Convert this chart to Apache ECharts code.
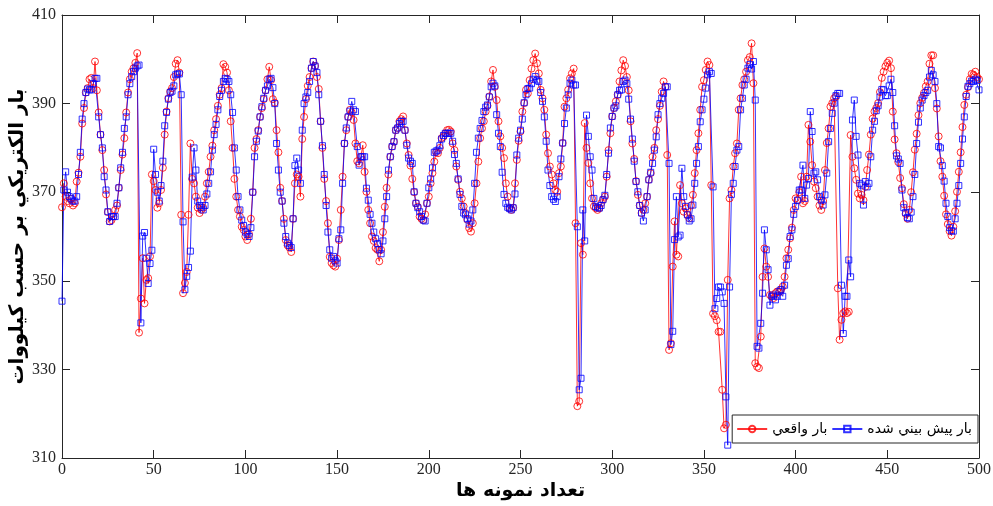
<!DOCTYPE html>
<html>
<head>
<meta charset="utf-8">
<script src="https://cdn.jsdelivr.net/npm/echarts@6/dist/echarts.min.js"></script>
<style>html,body{margin:0;padding:0;background:#fff}#c{width:993px;height:506px}</style>
</head>
<body>
<div id="c"></div>
<script>
// Actual load (red) for samples 0..500
var actual = [
366.6,372,369,368,367.5,368.5,367,367.5,372.4,374.4,
378,385.5,389,392.5,393.5,395.5,395.8,393.5,399.5,393,
388,383,379.5,375,369.5,365.5,363.4,363.7,364.5,366,
367,371,375,378.5,382.2,388,392.5,395.5,397.2,398,
399.2,401.4,338.3,346,355.1,344.9,350.2,350.6,355.5,374,
372.5,370.5,366.5,367.5,370.5,375.5,383,388.2,391.2,392.7,
393.5,396,399,399.8,397,364.9,347.2,349.5,352,364.9,
381,373,372,369,366.5,365.3,366,366.5,369,372,
374.6,378,380.5,384,386.5,389.5,392,393.5,398.9,398.3,
397,393,386,380,373,369,366,364.5,362.2,361.5,
360,359.2,360.5,364,370,380,382,384,387,389,
391,393,395.5,398.3,395.3,391,390.2,384,379,371,
368,364,359.2,358,357.5,356.5,364,372,374,373.5,
369,382,387,391,394,396,398,399.5,398.5,396,
393.3,386,380,373,368,363,355.4,354,353.5,353.2,
355,359.2,366,373.5,381,384,387,388.6,388,386.3,
381,377,376.5,378,380.6,374.6,370.1,366,363,360,
359,357.4,357,354.4,357,361,366.7,371,374,378,
380.3,381.4,384,384.5,386,386.5,387.1,384,381,378.4,
376,373,370,367.5,366.7,364.5,364,363.7,365,367.5,
369,372,374.3,376.9,379,378.8,380,382.2,382.5,383.3,
384,384.1,383.7,381,379.5,375.8,372.8,370.1,368.6,366.8,
365.3,363.8,361.9,361.1,363,367.5,372,376.9,382.2,384.4,
386,388.2,389.5,391.6,395,397.6,393.8,390.8,386,382.6,
380,377.7,372,369,366.4,366,366.5,372,377.3,381.6,
383.7,388.2,390.1,393.1,392.3,395.3,397.9,399.8,401.3,399.1,
396.8,393.1,391.2,388.6,383,378.8,375.8,374,372,370.5,
370.1,374.3,375.8,381.1,389.3,391.2,393.1,395.7,396.8,397.9,
363,321.7,322.8,358.5,355.9,385.6,380,376.6,372,368.6,
366.8,366.4,366,366.4,367.5,368.3,369,373.5,379.5,383.3,
387.1,389,390.5,392,395,397.5,399.8,398.5,396,393,
386,381,377.5,372.5,369.4,367,365.3,366,367.5,369,
372.8,374.3,378,380,384,386.5,389.5,392.7,395,393.8,
378.4,334.4,335.9,353.2,363.4,355.9,355.5,371.6,367.5,365.6,
366.4,364.9,364.1,367,369.4,374.3,379.5,383.3,388.6,393.8,
395.3,397.6,399.5,398.7,371.6,342.6,342,341.1,338.5,338.5,
325.4,316.7,317.5,350.2,368.6,370.5,375.8,378.8,381,388.6,
391.2,394.2,395.5,397.2,399.8,400.5,403.6,394.6,331.4,330.6,
330.3,337.4,350.9,357.3,353.2,350.9,346.8,346.5,346.1,347.2,
347.6,347.4,348,348.7,350.9,355.1,357,359.6,362,366,
368.6,368.2,370,373.5,367.5,368,373.5,385.2,381.4,376.1,
372.4,370.9,369,367,366,368,375,381.1,384.4,389.3,
390.1,391.2,391.6,348.3,336.7,341.2,342.7,343.1,342.7,343,
382.9,378,375.4,372.8,369.7,368.6,369.4,368.2,371.2,375,
378.5,383,386.6,388.2,389,390.1,392.6,395.8,397.2,398.4,
399.2,399.7,398,388.2,381.9,378.8,376.8,373.2,370.9,367.3,
365.1,364,366,370,374.5,379.6,383.2,387.4,390.1,391.3,
392.4,393.9,395,399,400.9,400.9,393.5,388.9,382.6,377,
373.5,369.2,365,362.8,361.2,360.2,362.2,365.7,370.1,374.6,
379,384.7,389.7,392,393.7,395.5,396.7,396.5,397.2,396,
395.5
];
// Predicted load (blue) for samples 0..500
var predicted = [
345.4,370.5,374.6,370,369,368.5,368,368,369,374,
379,386.5,390,392.5,393.3,393.1,393.1,394.5,395.7,395.7,
387,383,380,373.5,370.5,365.6,363.4,364.5,364.5,364.5,
367.5,371,375.5,379,384.4,387,392,394.5,396.1,397.2,
398,398.5,398.7,340.5,360.1,360.9,355.1,349.4,353.9,356.9,
379.7,374,370,368,371.5,377,385,388,391,392.5,
392.8,394,396.5,396.7,396.7,392,363.3,348,351,353,
356.7,373.4,380,375,368,367,366.5,366,367,369.6,
372,374.6,379.5,383,385.3,388.6,391.6,393,395,395.7,
395.5,395,392,388,380,375,369,366,363.7,362.5,
361,360.5,360,362,370,378,381.5,383.8,387,389.3,
391.2,393,394,395.5,395.7,393.6,390,381,375,370,
368,363,360,358.5,358,357.5,364,376,377.7,375,
372,384,390,391.5,392.5,395,398,399.5,398.5,397,
392,386,380.5,374,367,361,357,355.1,355.5,354.5,
354,359.5,361.5,372,381,384.5,387,388.3,390.5,388.6,
388.2,380.3,376.1,378,378,378,370.9,368.2,365,363,
361,359.5,358.4,357,356.1,359,364,369,375,378,
380.3,381.4,384,384.5,385.5,386,386,384,380.6,377.7,
377,376.5,370.1,367.5,366.5,365.6,364.5,363.7,363.5,367.5,
371,373,375.5,379,379.3,379.5,380.5,382,382.8,383.3,
383.3,383.3,383.3,381.5,378.5,376.5,373,369.5,366.8,365.3,
364.9,364,362.8,363.5,366,372,379,382.2,384.4,386.2,
388.2,389.2,389.7,391.5,393.8,394.6,394,387.5,383.3,380.3,
374.5,369.5,367.5,366.6,366.3,366,366.5,369.6,378.4,382.2,
384,386.5,390.2,392,393.4,393.5,394.5,395.5,396.1,395.3,
395,392.5,390.5,387,381.5,375,371.5,369,368.4,367.9,
369,373.5,377.5,381.1,385.5,389,392,394.6,395.3,394.2,
394.2,362.2,325.4,328,366,359,387.4,382.6,378,375,
368.6,366.8,366.5,366.4,367,368.3,369.3,374,378.8,384.5,
387.1,389,389.5,392,393,393.1,395,395.3,394.5,391,
386.5,382,377,372.4,370.1,367,365.3,363.5,366,369,
372.8,374.5,376.5,379.5,382.5,387.5,390,391.2,392.3,393.8,
393.8,376.5,335.6,338.6,359.3,369,359.9,360.3,375.4,369,
366.8,364.9,363.5,364,367.1,372,376.5,380.3,385.9,388.6,
391,393.5,396.5,397.2,396.8,371.2,343.7,346,348.6,348.6,
347.5,344.9,323.8,312.9,348.6,369.5,372,375.8,379.5,380.3,
388.6,391.2,394.2,395.5,398,398.8,397.8,399.5,390.8,335.2,
334.8,340.4,347.2,361.5,357,352.5,344.5,346.5,346.8,345.7,
346.5,347.6,348,346.5,349,353.5,355,360,361.5,365,
366.8,368.2,370.5,370.5,376.1,368.6,371.6,373.1,388.2,383.7,
374.3,374.6,372.8,369,368.2,367.1,369.4,374.3,381.4,384.4,
387.8,390.1,391.8,392.3,392.3,349,338.1,346.5,346.5,354.7,
350.9,386.3,390.8,382.6,378.4,372,371.6,367.1,372.4,371.2,
372,378,384,386,388.4,389.5,391.5,393.2,393.1,391.8,
391.8,394,395.5,392.5,385,378.2,377.5,376.5,370.5,366.5,
365.4,364.3,364,365.5,369,374,381,385.8,389,390.8,
391.8,392.5,393,396,397.5,396.5,395,390,380.3,380,
376,372.5,367.5,364.5,362,361.3,361.2,364,367.5,371.5,
376.5,382,387,391.6,393.9,394.5,395.1,395,395.5,395.2,
393.1
];
var xTicks = [0, 50, 100, 150, 200, 250, 300, 350, 400, 450, 500];
var yTicks = [310, 330, 350, 370, 390, 410];
var seriesNames = ['بار واقعي', 'بار پيش بيني شده'];
var xTitle = 'تعداد نمونه ها';
var yTitle = 'بار الكتريكي بر حسب كيلووات';

var toPairs = function (arr) { return arr.map(function (v, i) { return [i, v]; }); };

var chart = echarts.init(document.getElementById('c'), null, {renderer: 'canvas'});
var axisColor = '#262626';
var tickFont = {color: '#262626', fontFamily: 'Liberation Serif', fontSize: 16};
var baseX = {
  type: 'value', min: xTicks[0], max: xTicks[xTicks.length - 1],
  interval: xTicks[1] - xTicks[0], splitLine: {show: false},
  axisLine: {show: true, onZero: false, lineStyle: {color: axisColor, width: 1}},
  axisTick: {show: true, inside: true, length: 8, lineStyle: {color: axisColor}}
};
var baseY = {
  type: 'value', min: yTicks[0], max: yTicks[yTicks.length - 1],
  interval: yTicks[1] - yTicks[0], splitLine: {show: false},
  axisLine: {show: true, onZero: false, lineStyle: {color: axisColor, width: 1}},
  axisTick: {show: true, inside: true, length: 8, lineStyle: {color: axisColor}}
};
var option = {
  animation: false,
  backgroundColor: '#ffffff',
  grid: {left: 62, right: 14, top: 15, bottom: 48, containLabel: false, outerBoundsMode: 'none'},
  legend: {
    data: seriesNames,
    right: 15, bottom: 63,
    orient: 'horizontal',
    backgroundColor: '#ffffff',
    borderColor: '#262626', borderWidth: 1,
    padding: [7, 6, 7, 4],
    itemGap: 4, itemWidth: 30, itemHeight: 8,
    textStyle: {fontFamily: 'DejaVu Sans', fontSize: 14, color: '#000'}
  },
  xAxis: [
    Object.assign({}, baseX, {
      position: 'bottom',
      name: xTitle, nameLocation: 'middle', nameGap: 24, nameMoveOverlap: false,
      nameTextStyle: {fontFamily: 'DejaVu Sans', fontWeight: 'bold', fontSize: 19, color: '#000'},
      axisLabel: Object.assign({margin: 4}, tickFont)
    }),
    Object.assign({}, baseX, {position: 'top', axisLabel: {show: false}})
  ],
  yAxis: [
    Object.assign({}, baseY, {
      position: 'left',
      name: yTitle, nameLocation: 'middle', nameGap: 34, nameRotate: 90, nameMoveOverlap: false,
      nameTextStyle: {fontFamily: 'DejaVu Sans', fontWeight: 'bold', fontSize: 20, color: '#000'},
      axisLabel: Object.assign({margin: 6}, tickFont)
    }),
    Object.assign({}, baseY, {position: 'right', axisLabel: {show: false}})
  ],
  series: [
    {
      name: seriesNames[0], type: 'line', data: toPairs(actual),
      xAxisIndex: 0, yAxisIndex: 0,
      symbol: 'circle', symbolSize: 7, showSymbol: true, showAllSymbol: true,
      lineStyle: {color: '#ff0000', width: 1, opacity: 0.8},
      itemStyle: {color: 'rgba(255,255,255,0)', borderColor: '#ff0000', borderWidth: 1, opacity: 0.8},
      emphasis: {disabled: true}
    },
    {
      name: seriesNames[1], type: 'line', data: toPairs(predicted),
      xAxisIndex: 0, yAxisIndex: 0,
      symbol: 'rect', symbolSize: 6, showSymbol: true, showAllSymbol: true,
      lineStyle: {color: '#0000ff', width: 1, opacity: 0.8},
      itemStyle: {color: 'rgba(255,255,255,0)', borderColor: '#0000ff', borderWidth: 1, opacity: 0.8},
      emphasis: {disabled: true}
    }
  ]
};
chart.setOption(option);
</script>
</body>
</html>
